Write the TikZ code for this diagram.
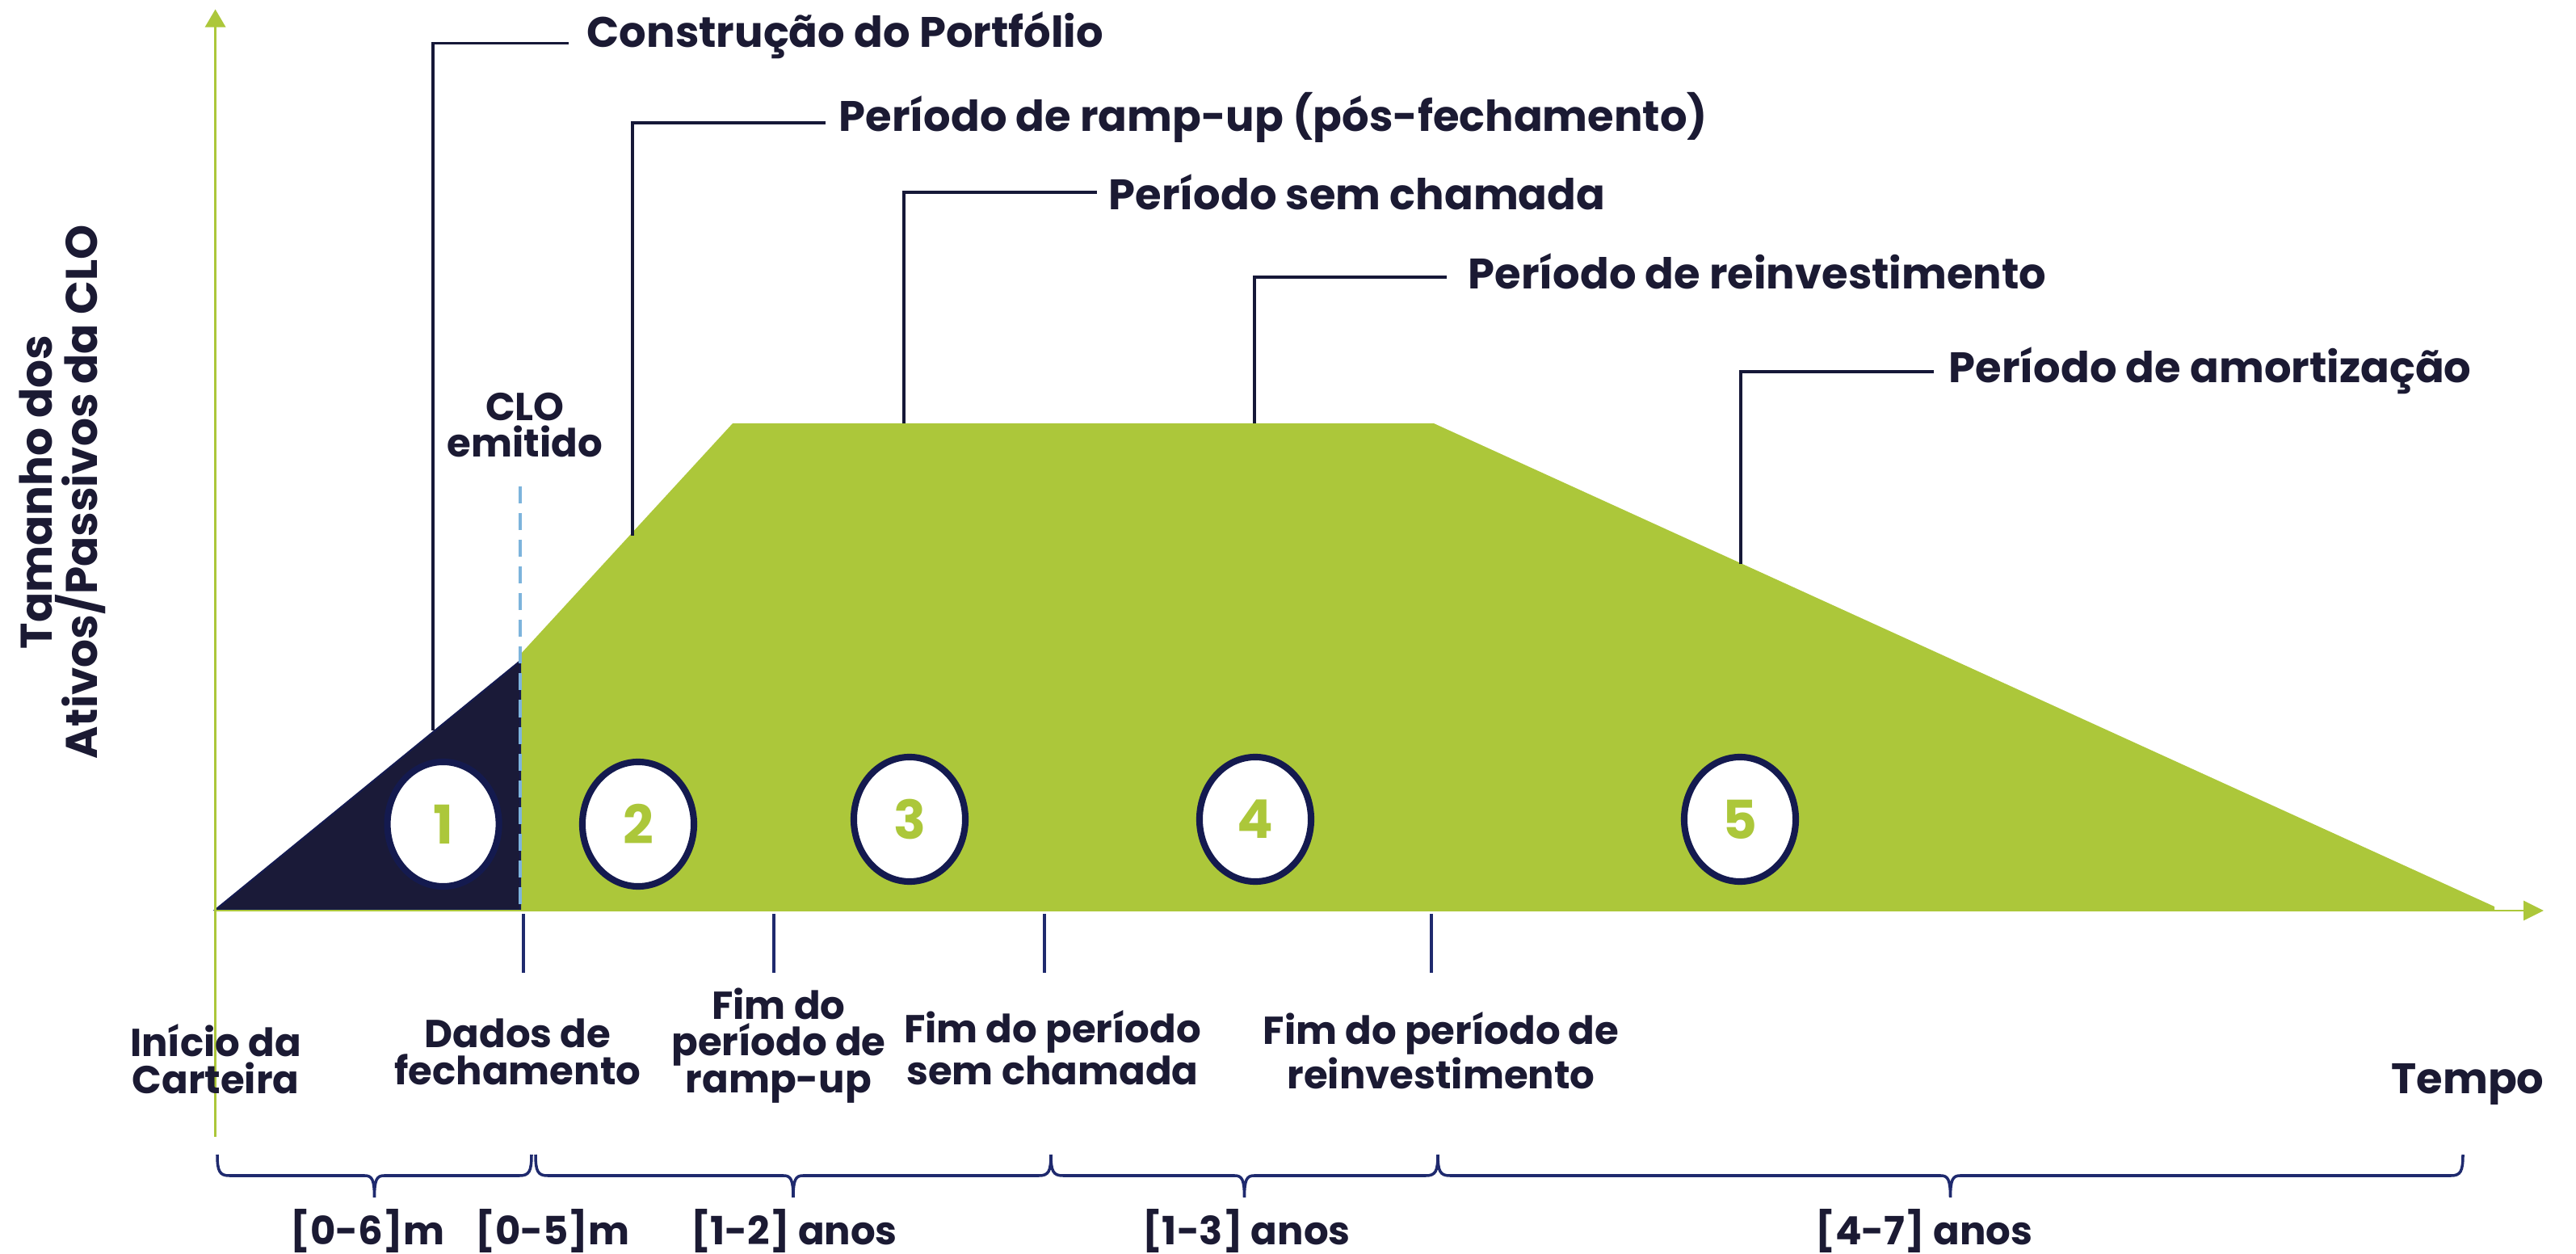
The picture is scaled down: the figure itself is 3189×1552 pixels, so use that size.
\documentclass[tikz,border=0pt]{standalone}
\usepackage{fontspec}
\setmainfont{Poppins}
\usetikzlibrary{shapes.geometric,arrows.meta}
\definecolor{cgreen}{HTML}{ACC73A}
\definecolor{ctext}{HTML}{1B1A33}
\definecolor{cdark}{HTML}{1A1A38}
\definecolor{clead}{HTML}{161838}
\definecolor{cring}{HTML}{141A4F}
\definecolor{cbrace}{HTML}{1F2A6E}
\definecolor{cdash}{HTML}{7DB4DC}
\tikzset{
  toplabel/.style={anchor=base west,inner sep=0,text=ctext,font=\fontsize{15}{14}\selectfont\bfseries},
  botlabel/.style={anchor=base,inner sep=0,align=center,text=ctext,font=\fontsize{13.7}{12.8}\selectfont\bfseries},
  rnglabel/.style={anchor=base,inner sep=0,text=ctext,font=\fontsize{13.7}{12.8}\selectfont\bfseries},
  leader/.style={draw=clead,line width=1pt},
  tickline/.style={draw=cbrace,line width=0.9pt},
  bracestyle/.style={draw=cbrace,line width=1pt},
  stage/.style={ellipse,draw=cring,fill=white,line width=2.3pt,minimum width=1.38cm,minimum height=1.54cm,inner sep=0,text=cgreen,font=\fontsize{18.8}{18}\selectfont\bfseries},
  axisline/.style={draw=cgreen,line width=0.85pt}
}
\newcommand{\drawcbrace}[2]{%
  \draw[bracestyle] (#1,1429) .. controls (#1,1450) and ({#1+3},1455) .. ({#1+15},1455)
    -- ({(#1+#2)/2-12},1455) .. controls ({(#1+#2)/2-3},1455) and ({(#1+#2)/2},1460) .. ({(#1+#2)/2},1482)
    .. controls ({(#1+#2)/2},1460) and ({(#1+#2)/2+3},1455) .. ({(#1+#2)/2+12},1455)
    -- ({#2-15},1455) .. controls ({#2-3},1455) and (#2,1450) .. (#2,1429);}
\begin{document}
\begin{tikzpicture}[x=0.01cm,y=-0.01cm]
\useasboundingbox (0,0) rectangle (3189,1552);
% shapes
\fill[cgreen] (644,1126) -- (644,810) -- (907,524) -- (1775,524) -- (3088,1122) -- (3088,1126) -- cycle;
\filldraw[fill=cdark,draw=cring,line width=0.6pt] (266.6,1126) -- (644,818) -- (644,1126) -- cycle;
% axes
\coordinate (yb) at (266.6,1407);
\coordinate (yt) at (266.6,11.5);
\coordinate (xl) at (266.6,1127);
\coordinate (xr) at (3149,1127);
\draw[axisline,-{Triangle[length=0.22cm,width=0.25cm]}] (yb) -- (yt);
\draw[axisline,-{Triangle[length=0.25cm,width=0.24cm]}] (xl) -- (xr);
% dashed
\coordinate (da) at (644,602);
\coordinate (db) at (644,1126);
\draw[draw=cdash,line width=1.1pt,dash pattern=on 6pt off 3.4pt] (da) -- (db);
% ticks
\foreach \tx/\nm in {648/ta,958/tb,1293/tc,1772/td}{
  \coordinate (\nm1) at (\tx,1131);
  \coordinate (\nm2) at (\tx,1204);
  \draw[tickline] (\nm1) -- (\nm2);
}
% leaders
\coordinate (l1a) at (536,904);   \coordinate (l1b) at (703.6,53.6);
\coordinate (l2a) at (783,663);   \coordinate (l2b) at (1022,152);
\coordinate (l3a) at (1119,524);  \coordinate (l3b) at (1358,238);
\coordinate (l4a) at (1553,524);  \coordinate (l4b) at (1791,343);
\coordinate (l5a) at (2155,698);  \coordinate (l5b) at (2394,460);
\draw[leader] (l1a) |- (l1b);
\draw[leader] (l2a) |- (l2b);
\draw[leader] (l3a) |- (l3b);
\draw[leader] (l4a) |- (l4b);
\draw[leader] (l5a) |- (l5b);
\node[toplabel] (t1) at (726,59) {Construção do Portfólio};
\node[toplabel] (t2) at (1038,163) {Período de ramp-up (pós-fechamento)};
\node[toplabel] (t3) at (1372,260) {Período sem chamada};
\node[toplabel] (t4) at (1817,358) {Período de reinvestimento};
\node[toplabel] (t5) at (2412,474) {Período de amortização};
% stages
\node[stage] (s1) at (548.6,1020) {1};
\node[stage] (s2) at (790,1020) {2};
\node[stage] (s3) at (1126,1014) {3};
\node[stage] (s4) at (1554,1014) {4};
\node[stage] (s5) at (2154,1014) {5};
% labels (anchor base = last line baseline)
\node[botlabel] (clo) at (650,566) {CLO\\emitido};
\node[rotate=90,align=center,inner sep=0,text=ctext,font=\fontsize{15.6}{13.9}\selectfont\bfseries] (ylab) at (77,609) {Tamanho dos\\Ativos/Passivos da CLO};
\node[botlabel] (b1) at (267,1353) {Início da\\Carteira};
\node[botlabel] (b2) at (641,1342) {Dados de\\fechamento};
\node[botlabel] (b3) at (964,1352) {Fim do\\período de\\ramp-up};
\node[botlabel] (b4) at (1303,1342) {Fim do período\\sem chamada};
\node[botlabel] (b5) at (1784,1347) {Fim do período de\\reinvestimento};
\node[botlabel,font=\fontsize{15}{14}\selectfont\bfseries] (b6) at (3055,1353) {Tempo};
% braces
\drawcbrace{269}{658}
\drawcbrace{663}{1301}
\drawcbrace{1301}{1780}
\drawcbrace{1780}{3049}
\node[rnglabel] (r1) at (455,1540) {[0-6]m};
\node[rnglabel] (r2) at (684,1540) {[0-5]m};
\node[rnglabel] (r3) at (983,1540) {[1-2] anos};
\node[rnglabel] (r4) at (1543,1540) {[1-3] anos};
\node[rnglabel] (r5) at (2382,1540) {[4-7] anos};
\end{tikzpicture}
\end{document}
